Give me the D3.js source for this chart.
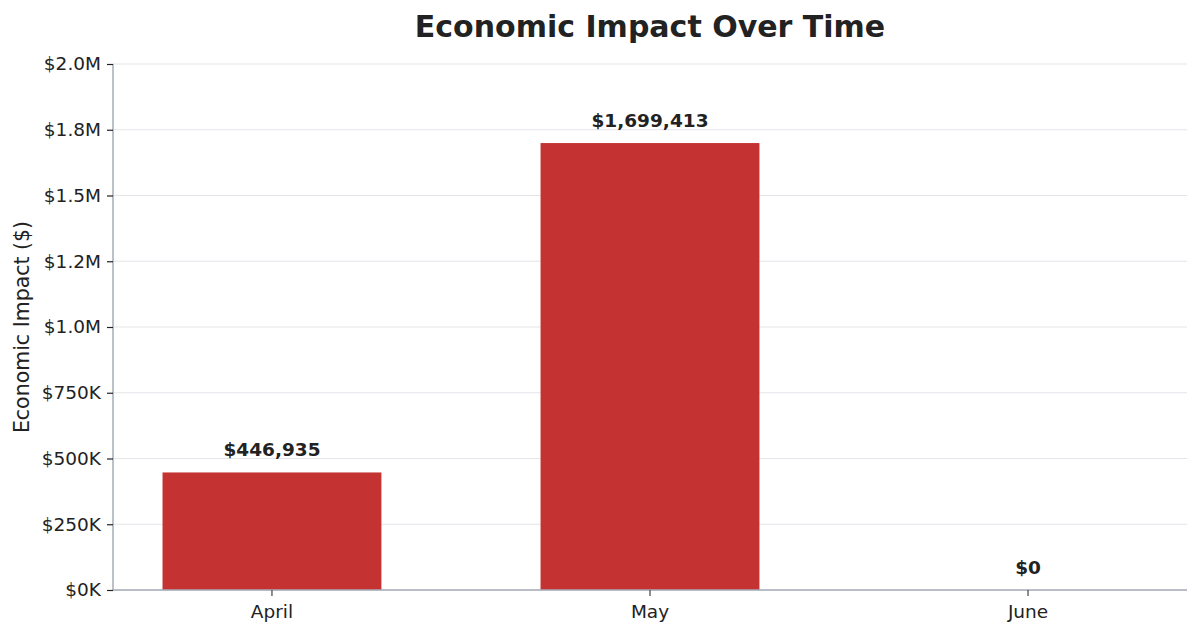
<!DOCTYPE html>
<html>
<head>
<meta charset="utf-8">
<script src="https://cdn.jsdelivr.net/npm/d3@7"></script>
<style>
  html, body { margin: 0; padding: 0; background: #ffffff; }
  svg { display: block; font-family: "DejaVu Sans", sans-serif; }
</style>
</head>
<body>
<svg id="chart" width="1200" height="634"></svg>
<script>
const categories = ["April", "May", "June"];
const values = [446935, 1699413, 0];
const valueLabels = ["$446,935", "$1,699,413", "$0"];
const yTickValues = [0, 250000, 500000, 750000, 1000000, 1250000, 1500000, 1750000, 2000000];
const yTickLabels = ["$0K", "$250K", "$500K", "$750K", "$1.0M", "$1.2M", "$1.5M", "$1.8M", "$2.0M"];
const titleText = "Economic Impact Over Time";
const yLabelText = "Economic Impact ($)";

const W = 1200, H = 634;
const margin = { left: 113, right: 13, top: 64, bottom: 44 };
const svg = d3.select("#chart");

const x = d3.scaleBand()
  .domain(categories)
  .range([margin.left, W - margin.right])
  .paddingInner(0.421)
  .paddingOuter(0.131);

const y = d3.scaleLinear()
  .domain([0, 2000000])
  .range([H - margin.bottom, margin.top]);

// gridlines
svg.append("g")
  .selectAll("line")
  .data(yTickValues)
  .join("line")
  .attr("x1", margin.left)
  .attr("x2", W - margin.right)
  .attr("y1", d => y(d))
  .attr("y2", d => y(d))
  .attr("stroke", "#e3e5ea")
  .attr("stroke-width", 1.2);

// bars
svg.append("g")
  .selectAll("rect")
  .data(values)
  .join("rect")
  .attr("x", (d, i) => x(categories[i]))
  .attr("width", x.bandwidth())
  .attr("y", d => y(d))
  .attr("height", d => y(0) - y(d))
  .attr("fill", "#c43331");

// value labels
svg.append("g")
  .selectAll("text")
  .data(values)
  .join("text")
  .attr("x", (d, i) => x(categories[i]) + x.bandwidth() / 2)
  .attr("y", d => y(d) - 16)
  .attr("text-anchor", "middle")
  .attr("font-size", "18.5px")
  .attr("font-weight", "bold")
  .attr("fill", "#222222")
  .text((d, i) => valueLabels[i]);

// y axis
const yAxis = d3.axisLeft(y)
  .tickValues(yTickValues)
  .tickFormat((d, i) => yTickLabels[i])
  .tickSize(6)
  .tickPadding(6);
const gy = svg.append("g")
  .attr("transform", `translate(${margin.left},0)`)
  .call(yAxis);
gy.select(".domain").attr("stroke", "#a6abb6").attr("stroke-width", 1.5)
  .attr("d", `M0,${y(0)}V${y(2000000)}`);
gy.selectAll(".tick line").attr("stroke", "#222222").attr("stroke-width", 1.2);
gy.selectAll(".tick text").attr("font-size", "18.5px").attr("fill", "#222222")
  .attr("font-family", "DejaVu Sans, sans-serif");

// x axis
const xAxis = d3.axisBottom(x).tickSize(6).tickPadding(9);
const gx = svg.append("g")
  .attr("transform", `translate(0,${y(0)})`)
  .call(xAxis);
gx.select(".domain").attr("stroke", "#a6abb6").attr("stroke-width", 1.5)
  .attr("d", `M${margin.left},0H${W - margin.right}`);
gx.selectAll(".tick line").attr("stroke", "#444444").attr("stroke-width", 1.2);
gx.selectAll(".tick text").attr("font-size", "18.5px").attr("fill", "#222222")
  .attr("font-family", "DejaVu Sans, sans-serif");

// title
svg.append("text")
  .attr("x", (margin.left + W - margin.right) / 2)
  .attr("y", 37)
  .attr("text-anchor", "middle")
  .attr("font-size", "30px")
  .attr("font-weight", "bold")
  .attr("fill", "#222222")
  .text(titleText);

// y label
svg.append("text")
  .attr("transform", `translate(29,${(y(0) + y(2000000)) / 2}) rotate(-90)`)
  .attr("text-anchor", "middle")
  .attr("font-size", "20.5px")
  .attr("fill", "#222222")
  .text(yLabelText);
</script>
</body>
</html>
